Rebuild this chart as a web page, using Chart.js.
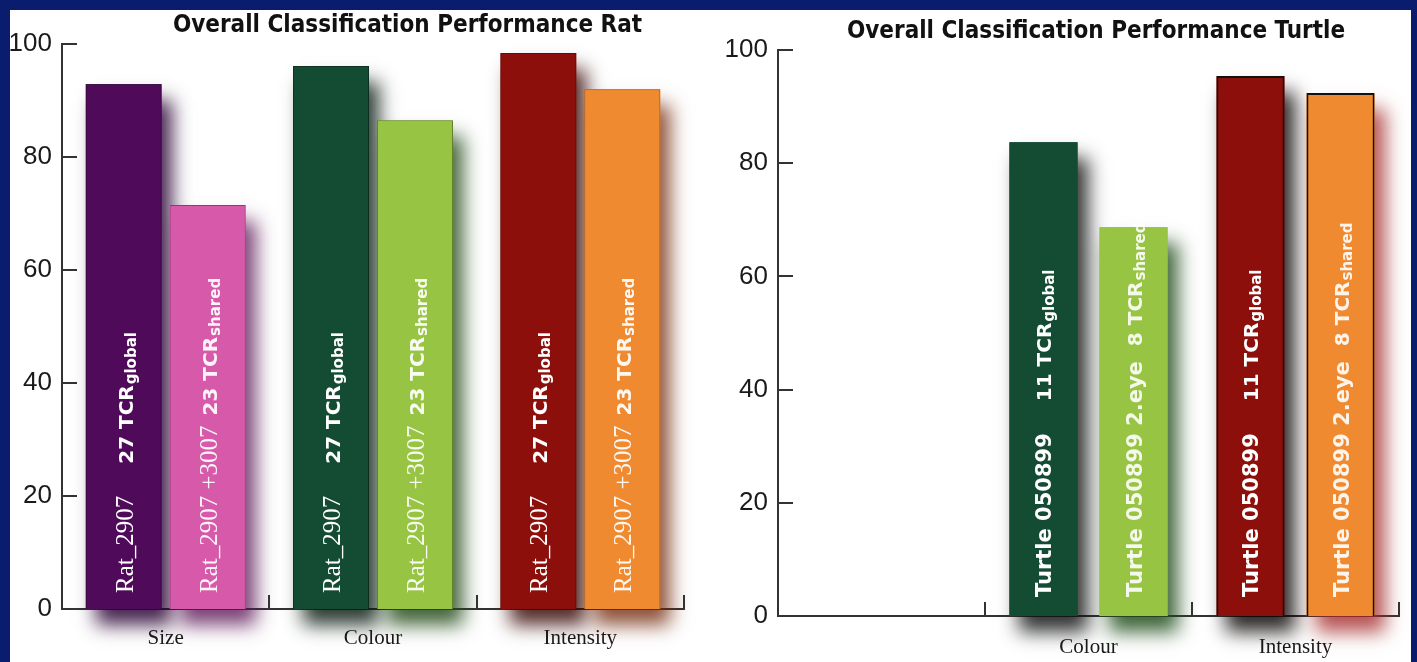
<!DOCTYPE html>
<html>
<head>
<meta charset="utf-8">
<title>Overall Classification Performance</title>
<script src="https://cdn.jsdelivr.net/npm/chart.js@4.4.1/dist/chart.umd.min.js"></script>
<style>
  html, body { margin: 0; padding: 0; overflow: hidden; }
  body { width: 1417px; height: 662px; background: #0a1c6e; position: relative; }
  #panel { position: absolute; left: 10px; top: 10px; width: 1401px; height: 652px; background: #fff; }
  .box { position: absolute; top: 10px; height: 652px; }
  #ratBox { left: 10px; width: 795px; }
  #turtleBox { left: 700px; width: 792px; }
</style>
</head>
<body>
<div id="panel"></div>
<div class="box" id="ratBox"><canvas id="ratChart"></canvas></div>
<div class="box" id="turtleBox"><canvas id="turtleChart"></canvas></div>
<script>
const categories = ['Size', 'Colour', 'Intensity'];
const yTicks = [0, 20, 40, 60, 80, 100];

// overall classification performance (%)
const ratGlobal = [92.9, 96.1, 98.4];
const ratShared = [71.5, 86.5, 92.0];
const turtleGlobal = [null, 83.7, 95.4];
const turtleShared = [null, 68.7, 92.4];

// text written up each bar
const ratStrains = ['Rat_2907', 'Rat_2907 +3007'];
const ratTcrCounts = ['27 TCR', '23 TCR'];
const turtleStrains = ['Turtle 050899', 'Turtle 050899 2.eye'];
const turtleTcrCounts = ['11 TCR', '8 TCR'];
const tcrKinds = ['global', 'shared'];

// bar colours per category (Size, Colour, Intensity)
const globalColors = ['#4f0a5a', '#134b33', '#8c0f0b'];
const sharedColors = ['#d65aa9', '#98c444', '#f08a30'];

const ratGlobalShadows = ['rgba(40,0,50,0.85)', 'rgba(10,28,18,0.85)', 'rgba(55,8,5,0.85)'];
const ratSharedShadows = ['rgba(90,20,85,0.8)', 'rgba(35,75,25,0.85)', 'rgba(115,40,10,0.8)'];
const turtleGlobalShadows = ['rgba(0,0,0,0)', 'rgba(15,18,16,0.85)', 'rgba(10,5,5,0.85)'];
const turtleSharedShadows = ['rgba(0,0,0,0)', 'rgba(30,75,25,0.85)', 'rgba(165,40,40,0.8)'];

// soft drop shadow behind every bar, drawn before the bars themselves
const barShadow = {
  id: 'barShadow',
  beforeDatasetsDraw(chart) {
    const ctx = chart.ctx;
    chart.data.datasets.forEach((ds, di) => {
      chart.getDatasetMeta(di).data.forEach((bar, i) => {
        if (ds.data[i] == null) return;
        const {x, y, base, width} = bar.getProps(['x', 'y', 'base', 'width'], true);
        ctx.save();
        ctx.shadowColor = ds.shadowColor[i];
        ctx.shadowBlur = 18;
        ctx.shadowOffsetX = 10;
        ctx.shadowOffsetY = 16;
        ctx.fillStyle = ds.backgroundColor[i];
        ctx.fillRect(x - width / 2, y, width, base - y);
        ctx.restore();
      });
    });
  }
};

// vertical label inside each bar: strain name, then TCR count with subscript
const barText = {
  id: 'barText',
  afterDatasetsDraw(chart, args, opts) {
    const ctx = chart.ctx;
    chart.data.datasets.forEach((ds, di) => {
      chart.getDatasetMeta(di).data.forEach((bar, i) => {
        if (ds.data[i] == null) return;
        ctx.save();
        ctx.translate(bar.x + opts.shift, bar.base - opts.lift);
        ctx.rotate(-Math.PI / 2);
        ctx.fillStyle = ds.textColor;
        ctx.textAlign = 'left';
        ctx.textBaseline = 'alphabetic';
        let pos = 0;
        ctx.font = opts.strainFont;
        ctx.fillText(ds.strain, pos, 0);
        pos += ctx.measureText(ds.strain).width + ds.gap;
        ctx.font = opts.tcrFont;
        ctx.fillText(ds.tcr, pos, 0);
        pos += ctx.measureText(ds.tcr).width + 1;
        ctx.font = opts.subFont;
        ctx.fillText(ds.sub, pos, opts.subDrop);
        ctx.restore();
      });
    });
  }
};

// inward tick marks on the value axis, category separators on the x axis
const axisMarks = {
  id: 'axisMarks',
  afterDraw(chart) {
    const {ctx, chartArea, scales} = chart;
    ctx.save();
    ctx.strokeStyle = '#333';
    ctx.lineWidth = 2;
    ctx.beginPath();
    scales.y.ticks.forEach(t => {
      const py = Math.round(scales.y.getPixelForValue(t.value));
      ctx.moveTo(chartArea.left, py);
      ctx.lineTo(chartArea.left + 15, py);
    });
    for (let i = 0; i < categories.length; i++) {
      const px = Math.round(scales.x.getPixelForValue(i + 0.5));
      ctx.moveTo(px, chartArea.bottom);
      ctx.lineTo(px, chartArea.bottom - 14);
    }
    ctx.stroke();
    ctx.restore();
  }
};

function makeChart(id, cfg) {
  const ctx = document.getElementById(id).getContext('2d');
  return new Chart(ctx, {
    type: 'bar',
    data: {
      labels: categories,
      datasets: cfg.datasets.map(d => Object.assign({
        categoryPercentage: cfg.categoryPercentage,
        barPercentage: cfg.barPercentage,
        borderSkipped: 'bottom'
      }, d))
    },
    options: {
      responsive: true,
      maintainAspectRatio: false,
      animation: false,
      devicePixelRatio: 1,
      layout: { padding: 0 },
      scales: {
        x: {
          grid: { display: false, drawTicks: false },
          border: { display: true, color: '#333', width: 2 },
          ticks: {
            color: '#1a1a1a',
            padding: cfg.xLabelPad,
            font: { family: 'Liberation Serif', size: 21 },
            callback: (v, i) => cfg.showLabel[i] ? categories[i] : ''
          },
          afterFit: s => { s.height = cfg.xHeight; }
        },
        y: {
          min: 0,
          max: 100,
          grid: { display: false, drawTicks: false },
          border: { display: true, color: '#333', width: 2 },
          afterBuildTicks: s => { s.ticks = yTicks.map(v => ({ value: v })); },
          ticks: {
            color: '#1a1a1a',
            padding: 10,
            font: { family: 'Liberation Sans', size: 26 }
          },
          afterFit: s => { s.width = cfg.yWidth; }
        },
        // empty strip on the right so the title can span the whole canvas
        spacer: {
          type: 'linear',
          position: 'right',
          display: true,
          grid: { display: false, drawTicks: false },
          border: { display: false },
          ticks: { display: false },
          afterFit: s => { s.width = cfg.padRight; }
        }
      },
      plugins: {
        legend: { display: false },
        tooltip: { enabled: false },
        title: {
          display: true,
          text: cfg.title,
          color: '#111',
          font: { family: "'DejaVu Sans Condensed', 'Open Sans'", size: 24, weight: 'bold', lineHeight: 1.2 },
          padding: cfg.titlePad
        },
        barText: cfg.text
      }
    },
    plugins: [barShadow, barText, axisMarks]
  });
}

makeChart('ratChart', {
  title: 'Overall Classification Performance Rat',
  titlePad: { top: 1, bottom: 4.2 },
  padRight: 121,
  yWidth: 52,
  xHeight: 53,
  xLabelPad: 17,
  categoryPercentage: 0.81,
  barPercentage: 0.905,
  showLabel: [true, true, true],
  text: {
    strainFont: '25px "Liberation Serif"',
    tcrFont: 'bold 20px "DejaVu Sans"',
    subFont: 'bold 15px "DejaVu Sans"',
    subDrop: 3,
    lift: 16,
    shift: 9
  },
  datasets: [
    {
      data: ratGlobal,
      backgroundColor: globalColors,
      borderColor: 'rgba(0,0,0,0.35)',
      borderWidth: 1,
      shadowColor: ratGlobalShadows,
      textColor: '#ffffff',
      strain: ratStrains[0], tcr: ratTcrCounts[0], sub: tcrKinds[0], gap: 32
    },
    {
      data: ratShared,
      backgroundColor: sharedColors,
      borderColor: 'rgba(0,0,0,0.35)',
      borderWidth: 1,
      shadowColor: ratSharedShadows,
      textColor: 'rgba(255,255,255,0.93)',
      strain: ratStrains[1], tcr: ratTcrCounts[1], sub: tcrKinds[1], gap: 10
    }
  ]
});

makeChart('turtleChart', {
  title: 'Overall Classification Performance Turtle',
  titlePad: { top: 7, bottom: 4.2 },
  padRight: 93,
  yWidth: 78,
  xHeight: 46,
  xLabelPad: 19,
  categoryPercentage: 0.87,
  barPercentage: 0.756,
  showLabel: turtleGlobal.map(v => v != null),
  text: {
    strainFont: 'bold 21px "DejaVu Sans"',
    tcrFont: 'bold 20px "DejaVu Sans"',
    subFont: 'bold 15px "DejaVu Sans"',
    subDrop: 3,
    lift: 19,
    shift: 8
  },
  datasets: [
    {
      data: turtleGlobal,
      backgroundColor: globalColors,
      borderColor: ['#000', '#0f3d29', '#111'],
      borderWidth: [0, 0, 2],
      shadowColor: turtleGlobalShadows,
      textColor: '#ffffff',
      strain: turtleStrains[0], tcr: turtleTcrCounts[0], sub: tcrKinds[0], gap: 32
    },
    {
      data: turtleShared,
      backgroundColor: sharedColors,
      borderColor: ['#000', '#7fa83a', '#111'],
      borderWidth: [0, 0, 2],
      shadowColor: turtleSharedShadows,
      textColor: 'rgba(255,255,255,0.9)',
      strain: turtleStrains[1], tcr: turtleTcrCounts[1], sub: tcrKinds[1], gap: 15
    }
  ]
});
</script>
</body>
</html>
